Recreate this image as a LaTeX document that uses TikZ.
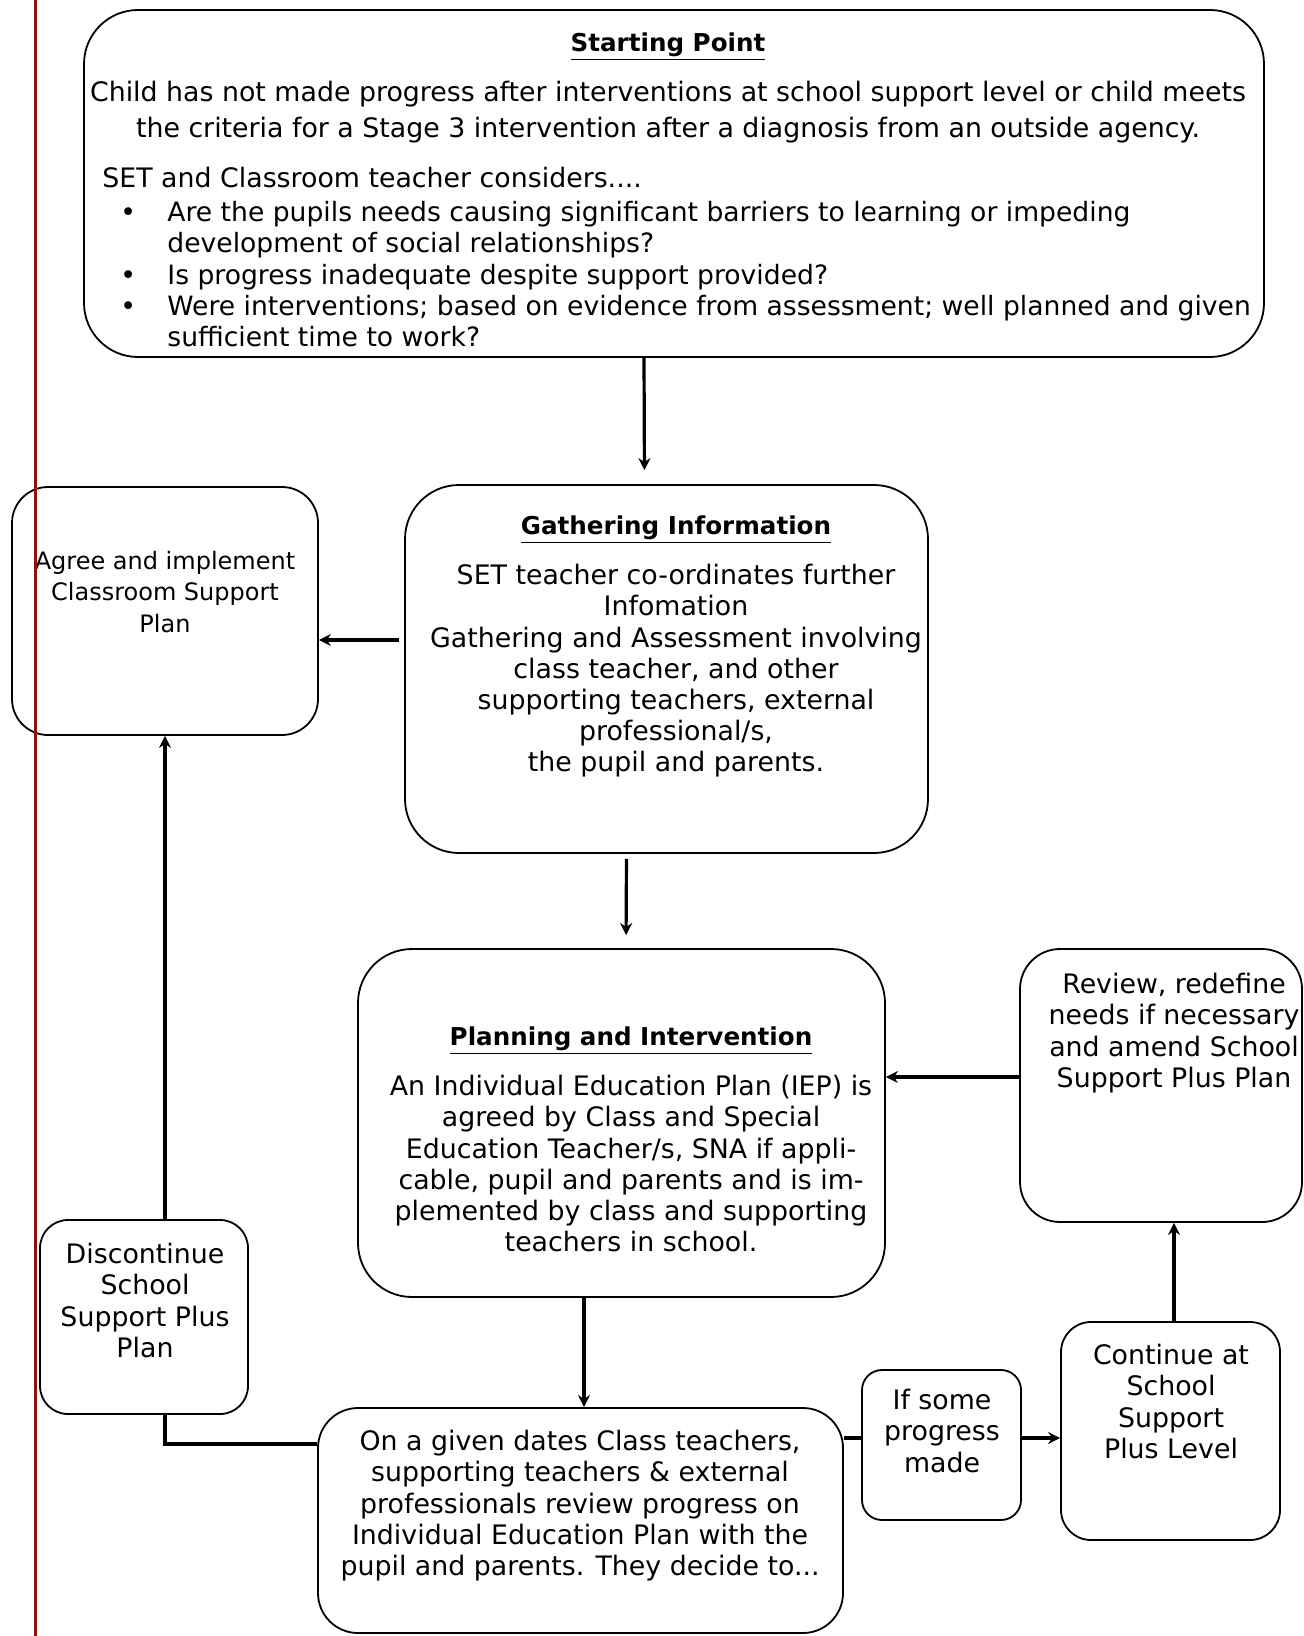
\documentclass[tikz,border=0pt]{standalone}
\usepackage{fontspec}
\setmainfont{DejaVu Sans}
\usetikzlibrary{arrows.meta, positioning}
\definecolor{marginred}{RGB}{138,18,18}

\begin{document}
\begin{tikzpicture}[x=0.5pt, y=-0.5pt, >={Stealth[length=6pt,width=6pt]},
  every node/.style={font=\fontsize{13.4}{15.6}\selectfont, inner sep=0pt}]
\tikzstyle{round box}=[draw, rectangle, line width=0.9pt, rounded corners=18pt]
\tikzstyle{box text}=[anchor=north, align=center]
\tikzstyle{box title}=[anchor=north, font=\fontsize{12.3}{15.6}\selectfont\bfseries]
\tikzstyle{flow}=[line width=1.6pt]

\useasboundingbox (0,0) rectangle (1304,1636);

% boxes
\node[round box, rounded corners=27pt, minimum width=590pt, minimum height=173.5pt] (start) at (674,183.5) {};
\node[round box, rounded corners=27pt, minimum width=261.5pt, minimum height=184pt] (gather) at (666.5,669) {};
\node[round box, minimum width=153pt, minimum height=124pt] (agree) at (165,611) {};
\node[round box, rounded corners=27pt, minimum width=263.5pt, minimum height=174pt] (plan) at (621.5,1123) {};
\node[round box, rounded corners=20pt, minimum width=141pt, minimum height=136.5pt] (review) at (1161,1085.5) {};
\node[round box, rounded corners=20pt, minimum width=262.5pt, minimum height=112.5pt] (meet) at (580.5,1520.5) {};
\node[round box, rounded corners=14pt, minimum width=104pt, minimum height=97pt] (discont) at (144,1317) {};
\node[round box, rounded corners=10pt, minimum width=79.5pt, minimum height=75pt] (some) at (941.5,1445) {};
\node[round box, rounded corners=15pt, minimum width=109.5pt, minimum height=109pt] (cont) at (1170.5,1431) {};

% texts
\node[box title] (startTitle) at (668,32) {\underline{Starting Point}};
\node[box text] (startIntro) at (668,81) {Child has not made progress after interventions at school support level or child meets\\[2.5pt]
  the criteria for a Stage 3 intervention after a diagnosis from an outside agency.};
\node[anchor=north west] (startAsk) at (102,167) {SET and Classroom teacher considers....};
\node[anchor=north west, font=\fontsize{13.3}{15.7}\selectfont] (startList) at (120,199) {\begin{tabular}{@{}p{23.5pt}@{}l@{}}
  \textbullet & Are the pupils needs causing significant barriers to learning or impeding\\
   & development of social relationships?\\
  \textbullet & Is progress inadequate despite support provided?\\
  \textbullet & Were interventions; based on evidence from assessment; well planned and given\\
   & sufficient time to work?
  \end{tabular}};

\node[box title] (gatherTitle) at (676,515) {\underline{Gathering Information}};
\node[box text] (gatherBody) at (676,564) {SET teacher co-ordinates further\\Infomation\\Gathering and Assessment involving\\
  class teacher, and other\\supporting teachers, external\\professional/s,\\the pupil and parents.};

\node[box text, font=\fontsize{12}{15.6}\selectfont] (agreeBody) at (165,551) {Agree and implement\\Classroom Support\\Plan};

\node[box title] (planTitle) at (631,1026) {\underline{Planning and Intervention}};
\node[box text] (planBody) at (631,1075) {An Individual Education Plan (IEP) is\\agreed by Class and Special\\
  Education Teacher/s, SNA if appli-\\cable, pupil and parents and is im-\\plemented by class and supporting\\teachers in school.};

\node[box text] (reviewBody) at (1174,973) {Review, redefine\\needs if necessary\\and amend School\\Support Plus Plan};
\node[box text] (discontBody) at (145,1243) {Discontinue\\School\\Support Plus\\Plan};
\node[box text] (meetBody) at (580,1430) {On a given dates Class teachers,\\supporting teachers \& external\\
  professionals review progress on\\Individual Education Plan with the\\pupil and parents. They decide to...};
\node[box text] (someBody) at (942,1389) {If some\\progress\\made};
\node[box text] (contBody) at (1171,1344) {Continue at\\School\\Support\\Plus Level};

% connectors
\draw[flow, ->, shorten >=7pt] ([xshift=-15pt]start.south) -- ([xshift=-11pt]gather.north);
\draw[flow, ->] ([xshift=-2.5pt, yshift=14.5pt]gather.west) -- ([yshift=-14.5pt]agree.east);
\draw[flow, ->, shorten <=2.5pt, shorten >=6.5pt] ([xshift=-20pt]gather.south) -- ([xshift=2.25pt]plan.north);
\draw[flow, ->] ([yshift=4.25pt]review.west) -- ([yshift=23pt]plan.east);
\draw[flow, ->] ([xshift=-18.75pt]plan.south) -- ([xshift=1.75pt]meet.north);
\draw[flow] ([yshift=38.25pt]meet.west) -| ([xshift=10.5pt]discont.south);
\draw[flow, ->] ([xshift=10.5pt]discont.north) -- (agree.south);
\draw[flow] ([yshift=41.25pt]meet.east) -- ([yshift=3.5pt]some.west);
\draw[flow, ->] ([yshift=3.5pt]some.east) -- ([yshift=-3.5pt]cont.west);
\draw[flow, ->] ([xshift=1.75pt]cont.north) -- ([xshift=6.5pt]review.south);

% margin rule
\draw[marginred, line width=1.5pt] (35.5,0) -- (35.5,1636);
\end{tikzpicture}
\end{document}
